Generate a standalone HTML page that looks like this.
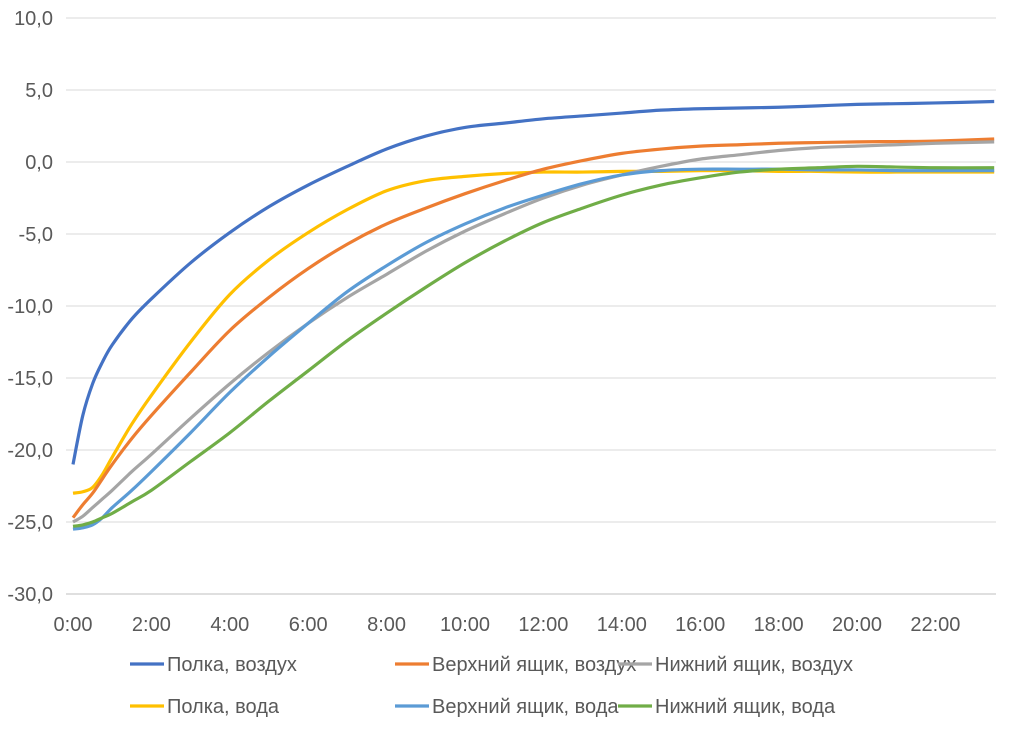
<!DOCTYPE html>
<html><head><meta charset="utf-8"><style>
body{margin:0;background:#fff;font-family:"Liberation Sans",sans-serif;}
svg text{font-family:"Liberation Sans",sans-serif;fill:#595959;font-size:20px;}
</style></head><body>
<svg id="chart" width="1018" height="728" xmlns="http://www.w3.org/2000/svg">
<g id="grid"></g>
<g id="yaxis"></g>
<g id="xaxis"></g>
<g id="series"></g>
<g id="legend"></g>
</svg>
<script>
const hours=[0,0.25,0.5,0.75,1,1.5,2,3,4,5,6,7,8,9,10,11,12,13,14,15,16,17,18,19,20,21,22,23.5];
const polkaAir=[-21,-17.6,-15.4,-13.9,-12.7,-10.9,-9.5,-7.0,-4.9,-3.1,-1.6,-0.3,0.9,1.8,2.4,2.7,3.0,3.2,3.4,3.6,3.7,3.75,3.8,3.9,4.0,4.05,4.1,4.2];
const topAir=[-24.7,-23.8,-23,-22,-21,-19.2,-17.6,-14.6,-11.7,-9.4,-7.4,-5.7,-4.3,-3.2,-2.2,-1.3,-0.5,0.1,0.6,0.9,1.1,1.2,1.3,1.35,1.4,1.42,1.45,1.6];
const bottomAir=[-25,-24.6,-24,-23.4,-22.8,-21.5,-20.3,-17.8,-15.4,-13.2,-11.2,-9.4,-7.8,-6.2,-4.8,-3.6,-2.5,-1.6,-0.9,-0.3,0.2,0.5,0.8,1.0,1.1,1.2,1.3,1.4];
const polkaWater=[-23,-22.9,-22.6,-21.7,-20.5,-18.2,-16.2,-12.5,-9.2,-6.8,-4.9,-3.3,-2.0,-1.3,-1.0,-0.8,-0.7,-0.7,-0.65,-0.65,-0.6,-0.6,-0.65,-0.65,-0.7,-0.7,-0.7,-0.7];
const topWater=[-25.5,-25.4,-25.2,-24.7,-24,-22.8,-21.5,-18.8,-16,-13.5,-11.2,-9.0,-7.2,-5.6,-4.3,-3.2,-2.3,-1.5,-0.9,-0.6,-0.5,-0.5,-0.5,-0.55,-0.55,-0.6,-0.6,-0.6];
const bottomWater=[-25.3,-25.2,-25,-24.7,-24.4,-23.6,-22.8,-20.8,-18.8,-16.6,-14.5,-12.4,-10.5,-8.7,-7.0,-5.5,-4.2,-3.2,-2.3,-1.6,-1.1,-0.7,-0.5,-0.4,-0.3,-0.35,-0.4,-0.4];
const yTicks=[10,5,0,-5,-10,-15,-20,-25,-30];
const yTickLabels=["10,0","5,0","0,0","-5,0","-10,0","-15,0","-20,0","-25,0","-30,0"];
const xTicks=[0,2,4,6,8,10,12,14,16,18,20,22];
const xTickLabels=["0:00","2:00","4:00","6:00","8:00","10:00","12:00","14:00","16:00","18:00","20:00","22:00"];
const seriesNames=["Полка, воздух","Верхний ящик, воздух","Нижний ящик, воздух","Полка, вода","Верхний ящик, вода","Нижний ящик, вода"];
const seriesData=[polkaAir,topAir,bottomAir,polkaWater,topWater,bottomWater];
const colors=["#4472C4","#ED7D31","#A5A5A5","#FFC000","#5B9BD5","#70AD47"];
const NS="http://www.w3.org/2000/svg";
const X0=73,PXH=39.2,XR=996;
const x=h=>X0+h*PXH;
const y=v=>162-v*14.4;
function mk(tag,attrs,parent){const e=document.createElementNS(NS,tag);for(const k in attrs)e.setAttribute(k,attrs[k]);parent.appendChild(e);return e;}
const grid=document.getElementById('grid'),ya=document.getElementById('yaxis'),xa=document.getElementById('xaxis'),sg=document.getElementById('series'),lg=document.getElementById('legend');
yTicks.forEach((t,i)=>{
  const l=mk('line',{x1:66,x2:XR,y1:y(t),y2:y(t),stroke:t===-30?'#bfbfbf':'#d9d9d9','stroke-width':1},grid);
  
  
  const tx=mk('text',{x:53,y:y(t)+7,'text-anchor':'end'},ya);
  tx.textContent=yTickLabels[i];
  
  
});
xTicks.forEach((t,i)=>{
  const tx=mk('text',{x:x(t),y:631,'text-anchor':'middle'},xa);
  tx.textContent=xTickLabels[i];
  
  
});
function smoothPath(pts){
  let d=`M${pts[0][0]},${pts[0][1]}`;
  for(let i=0;i<pts.length-1;i++){
    const p0=pts[i-1]||pts[i],p1=pts[i],p2=pts[i+1],p3=pts[i+2]||p2;
    const c1=[p1[0]+(p2[0]-p0[0])/6,p1[1]+(p2[1]-p0[1])/6];
    const c2=[p2[0]-(p3[0]-p1[0])/6,p2[1]-(p3[1]-p1[1])/6];
    d+=` C${c1[0]},${c1[1]} ${c2[0]},${c2[1]} ${p2[0]},${p2[1]}`;
  }
  return d;
}
const order=[3,1,2,4,5,0];
order.forEach(si=>{
  const pts=hours.map((h,i)=>[x(h),y(seriesData[si][i])]);
  const p=mk('path',{d:smoothPath(pts),fill:'none',stroke:colors[si],'stroke-width':3.2,'stroke-linejoin':'round'},sg);
  
  
});
const legPos=[[130,664],[395,664],[618,664],[130,706],[395,706],[618,706]];
seriesNames.forEach((n,i)=>{
  const [lx,ly]=legPos[i];
  const l=mk('line',{x1:lx,x2:lx+34,y1:ly,y2:ly,stroke:colors[i],'stroke-width':3.2},lg);
  
  
  const t=mk('text',{x:lx+37,y:ly+7},lg);
  t.textContent=n;
  
  
});
</script>
</body></html>
